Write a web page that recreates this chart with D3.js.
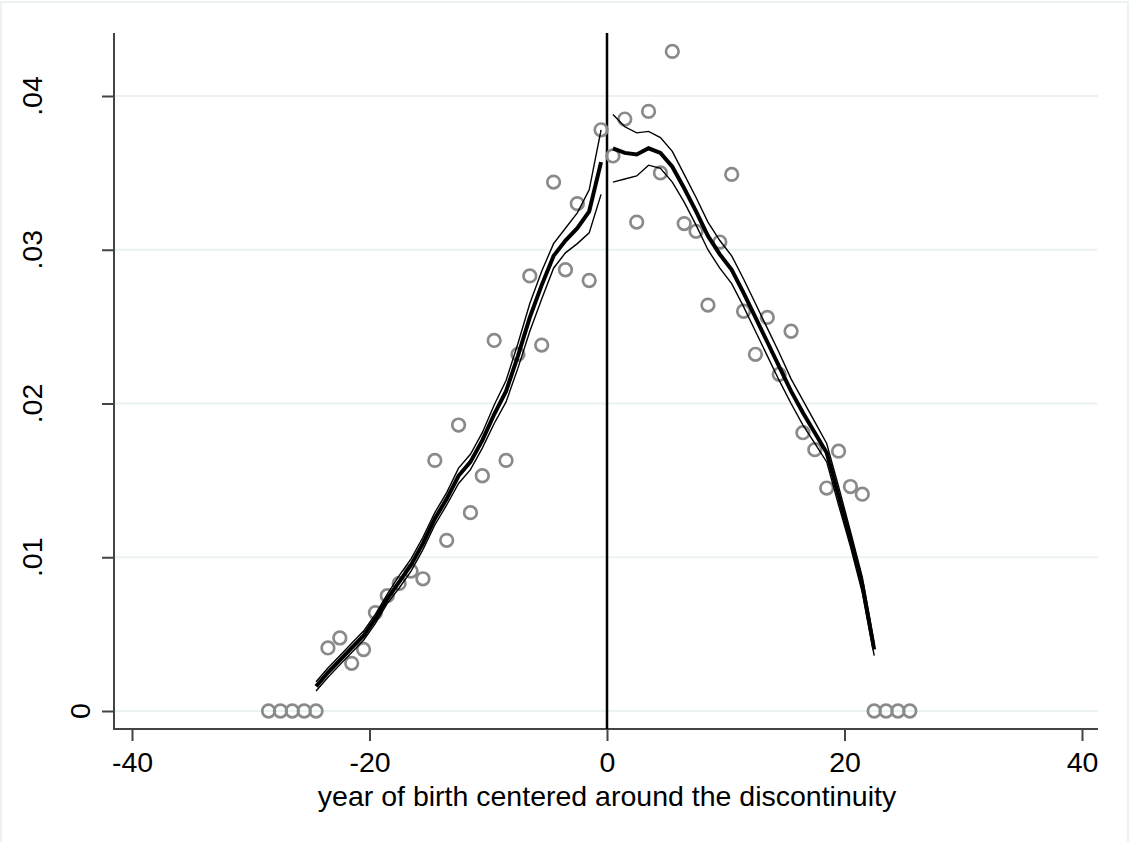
<!DOCTYPE html>
<html>
<head>
  <meta charset="utf-8">
  <title>RD plot</title>
  <script src="https://d3js.org/d3.v7.min.js"></script>
  <style>
    body { margin: 0; background: #fff; }
    text { font-family: "Liberation Sans", Arial, sans-serif; fill: #000; }
  </style>
</head>
<body>
<script type="text/javascript">

  // svg size
  var w = 1130;
  var h = 842;

  // plot region edges
  var plotLeft = 114, plotRight = 1098, plotTop = 33, plotBottom = 729;

  // bin means (hollow circles)
  var binX = [-28.5, -27.5, -26.5, -25.5, -24.5, -23.5, -22.5, -21.5, -20.5, -19.5,
              -18.5, -17.5, -16.5, -15.5, -14.5, -13.5, -12.5, -11.5, -10.5, -9.5,
              -8.5, -7.5, -6.5, -5.5, -4.5, -3.5, -2.5, -1.5, -0.5,
              0.5, 1.5, 2.5, 3.5, 4.5, 5.5, 6.5, 7.5, 8.5, 9.5,
              10.5, 11.5, 12.5, 13.5, 14.5, 15.5, 16.5, 17.5, 18.5, 19.5,
              20.5, 21.5, 22.5, 23.5, 24.5, 25.5];
  var binY = [0, 0, 0, 0, 0, 0.0041, 0.00475, 0.0031, 0.0040, 0.0064,
              0.0075, 0.0083, 0.0091, 0.0086, 0.0163, 0.0111, 0.0186, 0.0129, 0.0153, 0.0241,
              0.0163, 0.0232, 0.0283, 0.0238, 0.0344, 0.0287, 0.0330, 0.0280, 0.0378,
              0.0361, 0.0385, 0.0318, 0.0390, 0.0350, 0.0429, 0.0317, 0.0312, 0.0264, 0.0305,
              0.0349, 0.0260, 0.0232, 0.0256, 0.0219, 0.0247, 0.0181, 0.0170, 0.0145, 0.0169,
              0.0146, 0.0141, 0, 0, 0, 0];

  // local fit left of the cutoff, with half width of the band
  var fitLeftX = [-24.5, -23.5, -22.5, -21.5, -20.5, -19.5, -18.5, -17.5, -16.5, -15.5,
                  -14.5, -13.5, -12.5, -11.5, -10.5, -9.5, -8.5, -7.5, -6.5, -5.5,
                  -4.5, -3.5, -2.5, -1.5, -0.5];
  var fitLeftY = [0.0016, 0.0025, 0.0033, 0.0041, 0.0049, 0.0060, 0.0073, 0.0084, 0.0095, 0.0109,
                  0.0125, 0.0138, 0.0153, 0.0162, 0.0176, 0.0193, 0.0208, 0.0231, 0.0256, 0.0277,
                  0.0296, 0.0306, 0.0314, 0.0325, 0.0357];
  var bandLeft = [0.0003, 0.0003, 0.0003, 0.0003, 0.0003, 0.0003, 0.0003, 0.0004, 0.0004, 0.0004,
                  0.0004, 0.0004, 0.0005, 0.0005, 0.0005, 0.0006, 0.0007, 0.0008, 0.0009, 0.0009,
                  0.0008, 0.0008, 0.0010, 0.0014, 0.0021];

  // local fit right of the cutoff
  var fitRightX = [0.5, 1.5, 2.5, 3.5, 4.5, 5.5, 6.5, 7.5, 8.5, 9.5,
                   10.5, 11.5, 12.5, 13.5, 14.5, 15.5, 16.5, 17.5, 18.5, 19.5,
                   20.5, 21.5, 22.5];
  var fitRightY = [0.0366, 0.0363, 0.0362, 0.0366, 0.0363, 0.0354, 0.0340, 0.0325, 0.0309, 0.0297,
                   0.0287, 0.0272, 0.0256, 0.0240, 0.0224, 0.0208, 0.0194, 0.0181, 0.0168, 0.0140,
                   0.0112, 0.0082, 0.0040];
  var bandRight = [0.0022, 0.0017, 0.0014, 0.0011, 0.0010, 0.0010, 0.0009, 0.0009, 0.0009, 0.0009,
                   0.0009, 0.0009, 0.0009, 0.0009, 0.0009, 0.0008, 0.0008, 0.0007, 0.0006, 0.0006,
                   0.0005, 0.0005, 0.0004];

  // ticks
  var xTicks = [-40, -20, 0, 20, 40];
  var xTickLabels = ["-40", "-20", "0", "20", "40"];
  var yTicks = [0, 0.01, 0.02, 0.03, 0.04];
  var yTickLabels = ["0", ".01", ".02", ".03", ".04"];
  var cutoff = 0;
  var xTitle = "year of birth centered around the discontinuity";

  var fontSize = "28.5px";

  var svg = d3.select("body")
    .append("svg")
    .attr("width", w)
    .attr("height", h);

  var xScale = d3.scaleLinear()
    .domain([-40, 40])
    .range([132, 1082]);

  var yScale = d3.scaleLinear()
    .domain([0, 0.04])
    .range([711, 96]);

  // faint outer frame of the graph region
  svg.append("rect")
    .attr("x", 1).attr("y", 2)
    .attr("width", w - 3).attr("height", h + 10)
    .attr("fill", "none")
    .attr("stroke", "#e6eef0")
    .attr("stroke-width", 1.5);

  // gridlines
  svg.selectAll("line.grid")
    .data(yTicks)
    .enter()
    .append("line")
    .attr("class", "grid")
    .attr("x1", plotLeft).attr("x2", plotRight)
    .attr("y1", function(d) { return yScale(d); })
    .attr("y2", function(d) { return yScale(d); })
    .attr("stroke", "#eaf2f3")
    .attr("stroke-width", 2);

  // y axis
  var yAxis = d3.axisLeft(yScale)
    .tickValues(yTicks)
    .tickSize(12)
    .tickFormat("");
  var gy = svg.append("g")
    .attr("transform", "translate(" + plotLeft + ",0)")
    .call(yAxis);
  gy.select(".domain").remove();
  gy.selectAll(".tick line").attr("stroke", "#444").attr("stroke-width", 2);

  svg.append("line")
    .attr("x1", plotLeft).attr("x2", plotLeft)
    .attr("y1", plotTop).attr("y2", plotBottom + 1)
    .attr("stroke", "#444").attr("stroke-width", 2);

  // rotated y labels (longer labels sit further out, like the original)
  svg.selectAll("text.ylab")
    .data(yTicks)
    .enter()
    .append("text")
    .attr("class", "ylab")
    .attr("text-anchor", "middle")
    .attr("font-size", fontSize)
    .attr("transform", function(d, i) {
      var bx = plotLeft - 24 - (yTickLabels[i].length - 1) * 24;
      return "translate(" + bx + "," + yScale(d) + ") rotate(-90)";
    })
    .text(function(d, i) { return yTickLabels[i]; });

  // x axis
  var xAxis = d3.axisBottom(xScale)
    .tickValues(xTicks)
    .tickSize(12)
    .tickPadding(11)
    .tickFormat(function(d, i) { return xTickLabels[i]; });
  var gx = svg.append("g")
    .attr("transform", "translate(0," + plotBottom + ")")
    .call(xAxis);
  gx.select(".domain").remove();
  gx.selectAll(".tick line").attr("stroke", "#444").attr("stroke-width", 2);
  gx.selectAll(".tick text")
    .attr("font-size", fontSize)
    .attr("font-family", "Liberation Sans, Arial, sans-serif")
    .attr("fill", "#000");

  svg.append("line")
    .attr("x1", plotLeft - 1).attr("x2", plotRight)
    .attr("y1", plotBottom).attr("y2", plotBottom)
    .attr("stroke", "#444").attr("stroke-width", 2);

  // x title
  svg.append("text")
    .attr("x", xScale(0))
    .attr("y", 806)
    .attr("text-anchor", "middle")
    .attr("font-size", fontSize)
    .text(xTitle);

  // cutoff line
  svg.append("line")
    .attr("x1", xScale(cutoff)).attr("x2", xScale(cutoff))
    .attr("y1", plotTop).attr("y2", plotBottom)
    .attr("stroke", "#000").attr("stroke-width", 2.5);

  // binned means
  var bins = binX.map(function(x, i) { return [x, binY[i]]; });
  svg.selectAll("circle.bin")
    .data(bins)
    .enter()
    .append("circle")
    .attr("class", "bin")
    .attr("cx", function(d) { return xScale(d[0]); })
    .attr("cy", function(d) { return yScale(d[1]); })
    .attr("r", 6.3)
    .attr("fill", "none")
    .attr("stroke", "#8a8a8a")
    .attr("stroke-width", 2.7);

  // fitted lines with bands
  var line = d3.line()
    .x(function(d) { return xScale(d[0]); })
    .y(function(d) { return yScale(d[1]); });

  function drawFit(xs, ys, hw) {
    var mid = xs.map(function(x, i) { return [x, ys[i]]; });
    var hi = xs.map(function(x, i) { return [x, ys[i] + hw[i]]; });
    var lo = xs.map(function(x, i) { return [x, ys[i] - hw[i]]; });
    [hi, lo].forEach(function(s) {
      svg.append("path")
        .datum(s)
        .attr("d", line)
        .attr("fill", "none")
        .attr("stroke", "#000")
        .attr("stroke-width", 1.4);
    });
    svg.append("path")
      .datum(mid)
      .attr("d", line)
      .attr("fill", "none")
      .attr("stroke", "#000")
      .attr("stroke-width", 4);
  }

  drawFit(fitLeftX, fitLeftY, bandLeft);
  drawFit(fitRightX, fitRightY, bandRight);

</script>
</body>
</html>
